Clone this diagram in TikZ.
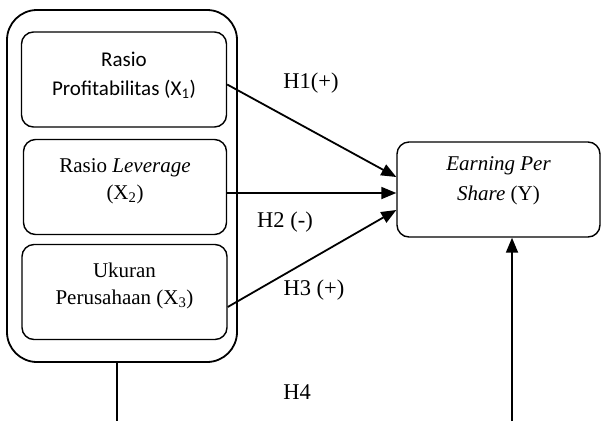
\documentclass[tikz,border=0pt]{standalone}
\usepackage{fontspec}
\setmainfont{Liberation Serif}
\newfontfamily\calibrifont{Carlito}
\usetikzlibrary{positioning,arrows.meta}

\begin{document}
\begin{tikzpicture}[x=1pt,y=-1pt]
\tikzstyle{varbox}=[draw,rounded corners=12pt,line width=1.4pt,minimum width=205pt,minimum height=95pt,inner sep=0pt]
\tikzstyle{vartext}=[align=center,font=\fontsize{21}{27}\selectfont,inner sep=0pt]
\tikzstyle{hyp}=[font=\fontsize{22.5}{27}\selectfont,inner sep=0pt]
\tikzstyle{arr}=[-{Triangle[length=15pt,width=12pt]},line width=1.8pt]
    \useasboundingbox (0,0) rectangle (601,421);
    \node[draw,rounded corners=30pt,line width=1.8pt,minimum width=230pt,minimum height=352pt] (group) at (122,186) {};
    \node[varbox] (prof) at (124,79.5) {};
    \node[varbox,minimum width=203pt] (lev) at (125,187) {};
    \node[varbox,minimum width=205pt] (size) at (124.5,292) {};
    \node[varbox,minimum width=203pt] (eps) at (498.5,189.5) {};
    \node[vartext,font=\calibrifont\fontsize{21}{29}\selectfont] (proft) at (124,75) {Rasio\\Profitabilitas (X\textsubscript{1})};
    \node[vartext] (levt) at (125,181) {Rasio \textit{Leverage}\\(X\textsubscript{2})};
    \node[vartext] (sizet) at (124.5,286) {Ukuran\\Perusahaan (X\textsubscript{3})};
    \node[vartext,font=\fontsize{21}{30}\selectfont] (epst) at (498.5,181) {\textit{Earning Per}\\\textit{Share} (Y)};
    \node[hyp] (h1) at (311,83) {H1(+)};
    \node[hyp] (h2) at (285,222) {H2 (-)};
    \node[hyp] (h3) at (314,290) {H3 (+)};
    \node[hyp] (h4) at (297,392) {H4};
    \coordinate (groupend) at (117,421);
    \coordinate (epsend) at (512,421);
    \draw[arr] ([yshift=-5pt]prof.east) -- ([yshift=12.5pt]eps.west);
    \draw[arr] ([yshift=-6pt]lev.east) -- ([yshift=-3.5pt]eps.west);
    \draw[arr] ([yshift=-15pt]size.east) -- ([yshift=-20.5pt]eps.west);
    \draw[line width=1.8pt] (groupend |- group.south) -- (groupend);
    \draw[arr] (epsend) -- (epsend |- eps.south);
\end{tikzpicture}
\end{document}
